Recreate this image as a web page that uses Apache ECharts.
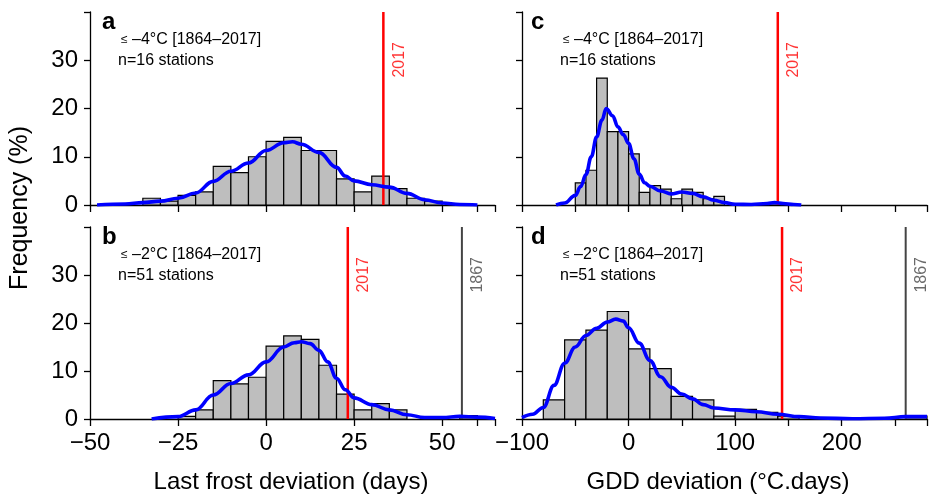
<!DOCTYPE html>
<html><head><meta charset="utf-8">
<script src="https://cdn.jsdelivr.net/npm/echarts@6/dist/echarts.min.js"></script>
<style>html,body{margin:0;padding:0;background:#fff}#c{width:930px;height:497px}</style>
</head><body><div id="c"></div>
<script>
const FONT = "'Liberation Sans', Arial, Helvetica, sans-serif";

// ---- Panel a: last frost, <= -4°C, n=16
const binWidthA = 5;
const binsA = [-35,-30,-25,-20,-15,-10,-5,0,5,10,15,20,25,30,35,40,45];
const freqA = [1.4,0.8,2.0,2.7,8.0,6.7,10.0,13.2,14.0,11.3,11.3,5.4,2.7,6.0,3.4,1.4,0.8];
const kdeAx = [-48,-40,-35,-30,-25,-20,-15,-10,-5,0,5,7.5,10,15,20,22.5,25,30,35,40,45,50,55,60];
const kdeAy = [0,0.2,0.5,0.8,1.4,2.5,4.9,7.0,8.7,11.3,12.9,13.1,12.6,10.9,7.8,6.0,5.0,4.2,3.7,2.4,1.1,0.4,0.1,0];
const marksA = [33.3];

// ---- Panel b: last frost, <= -2°C, n=51
const binWidthB = 5;
const binsB = [-25,-20,-15,-10,-5,0,5,10,15,20,25,30,35,40,45,50,55];
const freqB = [0.55,1.9,8.0,7.3,8.7,15.2,17.3,16.6,11.2,5.2,1.9,3.2,1.9,0,0,0,0.7];
const kdeBx = [-32.5,-25,-20,-15,-10,-5,0,5,8,10,12.5,15,17.5,20,22.5,25,30,35,40,45,50,55,60,65];
const kdeBy = [0,0.5,1.9,5.0,7.4,9.2,11.9,15.0,15.9,16.1,15.7,14.3,11.9,8.5,6.1,4.4,3.0,1.9,0.9,0.3,0.3,0.55,0.4,0.1];
const marksB = [23.2, 55.6];

// ---- Panel c: GDD, <= -4°C, n=16
const binWidthC = 10;
const binsC = [-50,-40,-30,-20,-10,0,10,20,30,40,50,60,70,80,90,100,110,120,130];
const freqC = [4.6,7.2,26.3,15.2,15.2,10.6,2.6,4.0,3.3,1.3,3.3,2.6,1.3,1.8,0,0,0,0,0.5];
const kdeCx = [-68,-60,-50,-45,-40,-35,-30,-25,-21,-15,-10,-5,0,5,10,15,20,30,40,50,60,70,80,90,100,115,130,137,145,155,162];
const kdeCy = [0,0.4,2.0,3.8,6.3,10.0,14.1,17.6,20.0,18.5,16.2,14.6,12.8,9.6,6.4,4.6,3.9,2.9,2.3,2.7,2.4,1.7,1.0,0.5,0.15,0.1,0.3,0.5,0.3,0.1,0];
const marksC = [140];

// ---- Panel d: GDD, <= -2°C, n=51
const binWidthD = 20;
const binsD = [-80,-60,-40,-20,0,20,40,60,80,100,120,140,160,180,200,220,240,260];
const freqD = [4.0,16.5,18.5,22.4,14.6,10.5,4.7,4.0,0.6,2.0,1.4,0.6,0,0,0,0,0,0.6];
const kdeDx = [-100,-90,-80,-70,-60,-50,-40,-30,-20,-12,-5,0,10,20,30,40,50,60,70,80,100,120,140,160,180,210,240,260,280];
const kdeDy = [0.3,1.0,2.4,7.0,11.6,15.0,17.4,18.9,20.2,20.8,20.4,19.0,15.8,12.2,8.8,6.6,5.2,4.2,3.0,2.3,1.9,1.5,1.0,0.5,0.2,0.05,0.15,0.5,0.5];
const marksD = [144, 260];

// ---- Axes ticks
const frostTicks = [-50,-25,0,25,50,60,65];
const frostLabels = [-50,-25,0,25,50];
const gddTicks = [-100,-50,0,50,100,150,200,250,280];
const gddLabels = [-100,0,100,200];
const yTicks = [0,10,20,30,40];
const yLabels = [0,10,20,30];
const markNames = ['2017','1867'];
const markColors = ['#ff0000','#444444'];

const panels = [
  {letter:'a', grid:{left:90, top:12, width:405, height:193}, xmin:-50, xmax:65, ticks:frostTicks, labels:null,
   bins:binsA, w:binWidthA, freq:freqA, kx:kdeAx, ky:kdeAy, marks:marksA, yLab:true,
   t1:'–4°C [1864–2017]', t2:'n=16 stations', lx:102, tx:121, nx:118},
  {letter:'b', grid:{left:90, top:227, width:405, height:192}, xmin:-50, xmax:65, ticks:frostTicks, labels:frostLabels,
   bins:binsB, w:binWidthB, freq:freqB, kx:kdeBx, ky:kdeBy, marks:marksB, yLab:true,
   t1:'–2°C [1864–2017]', t2:'n=51 stations', lx:102, tx:121, nx:118},
  {letter:'c', grid:{left:522, top:12, width:405, height:193}, xmin:-100, xmax:280, ticks:gddTicks, labels:null,
   bins:binsC, w:binWidthC, freq:freqC, kx:kdeCx, ky:kdeCy, marks:marksC, yLab:false,
   t1:'–4°C [1864–2017]', t2:'n=16 stations', lx:531, tx:563, nx:560},
  {letter:'d', grid:{left:522, top:227, width:405, height:192}, xmin:-100, xmax:280, ticks:gddTicks, labels:gddLabels,
   bins:binsD, w:binWidthD, freq:freqD, kx:kdeDx, ky:kdeDy, marks:marksD, yLab:false,
   t1:'–2°C [1864–2017]', t2:'n=51 stations', lx:531, tx:563, nx:560}
];

const axisLineStyle = {color:'#000', width:1.3};
const grids = [], xAxes = [], yAxes = [], series = [], graphics = [];

panels.forEach((p, i) => {
  grids.push(Object.assign({containLabel:false}, p.grid));
  xAxes.push({
    type:'value', gridIndex:i, min:p.xmin, max:p.xmax,
    axisLine:{show:true, onZero:false, lineStyle:axisLineStyle},
    axisTick:{show:true, customValues:p.ticks, length:7, lineStyle:axisLineStyle},
    axisLabel:{show:!!p.labels, customValues:p.labels || [], fontFamily:FONT, fontSize:24, color:'#000', margin:12,
      formatter:v => String(v).replace('-', '−')},
    splitLine:{show:false}
  });
  yAxes.push({
    type:'value', gridIndex:i, min:0, max:40, interval:10,
    axisLine:{show:true, onZero:false, lineStyle:axisLineStyle},
    axisTick:{show:true, customValues:yTicks, length:6, lineStyle:axisLineStyle},
    axisLabel:{show:p.yLab, customValues:yLabels, fontFamily:FONT, fontSize:24, color:'#000', margin:12},
    splitLine:{show:false}
  });
  // histogram
  series.push({
    type:'custom', xAxisIndex:i, yAxisIndex:i, z:2,
    data:p.bins.map((b, k) => [b, b + p.w, p.freq[k]]).filter(d => d[2] > 0),
    encode:{x:[0,1], y:2},
    renderItem:(params, api) => {
      const a = api.coord([api.value(0), api.value(2)]);
      const b = api.coord([api.value(1), 0]);
      return {type:'rect', shape:{x:a[0], y:a[1], width:b[0]-a[0], height:b[1]-a[1]},
        style:{fill:'#bebebe', stroke:'#000', lineWidth:1.2}};
    }
  });
  // vertical marker lines + labels
  p.marks.forEach((m, k) => {
    series.push({
      type:'line', xAxisIndex:i, yAxisIndex:i, z:3, symbol:'none', silent:true,
      data:[[m,0],[m,40]], lineStyle:{color:markColors[k], width:k === 0 ? 2.5 : 2}
    });
    series.push({
      type:'scatter', xAxisIndex:i, yAxisIndex:i, z:6, symbolSize:0, silent:true,
      data:[[m,40]],
      label:{show:true, formatter:markNames[k], rotate:90, position:[8,30], align:'right', verticalAlign:'top',
        fontFamily:FONT, fontSize:16, color:markColors[k]}
    });
  });
  // kde
  series.push({
    type:'line', xAxisIndex:i, yAxisIndex:i, z:5, symbol:'none', silent:true,
    smooth:0.4, smoothMonotone:'x',
    data:p.kx.map((x, k) => [x, p.ky[k]]),
    lineStyle:{color:'#0000ff', width:3.6}
  });
  // annotations
  const top = p.grid.top;
  graphics.push({type:'text', x:p.lx, y:top + 10, style:{text:p.letter, font:'bold 24px ' + FONT, fill:'#000', textVerticalAlign:'middle'}});
  graphics.push({type:'text', x:p.tx, y:top + 28, style:{text:'{le|≤} ' + p.t1, font:'16px ' + FONT, fill:'#000', textVerticalAlign:'middle',
    rich:{le:{fontSize:12, fontFamily:FONT}}}});
  graphics.push({type:'text', x:p.nx, y:top + 49, style:{text:p.t2, font:'16px ' + FONT, fill:'#000', textVerticalAlign:'middle'}});
});

graphics.push({type:'text', x:20, y:208, rotation:Math.PI/2, style:{text:'Frequency (%)', font:'25px ' + FONT, fill:'#000', textAlign:'center', textVerticalAlign:'middle'}});
graphics.push({type:'text', x:291, y:482, style:{text:'Last frost deviation (days)', font:'24px ' + FONT, fill:'#000', textAlign:'center', textVerticalAlign:'middle'}});
graphics.push({type:'text', x:718, y:482, style:{text:'GDD deviation (°C.days)', font:'24px ' + FONT, fill:'#000', textAlign:'center', textVerticalAlign:'middle'}});

const chart = echarts.init(document.getElementById('c'), null, {renderer:'canvas'});
chart.setOption({
  animation:false, backgroundColor:'#fff',
  grid:grids, xAxis:xAxes, yAxis:yAxes, series:series, graphic:graphics
});
</script></body></html>
